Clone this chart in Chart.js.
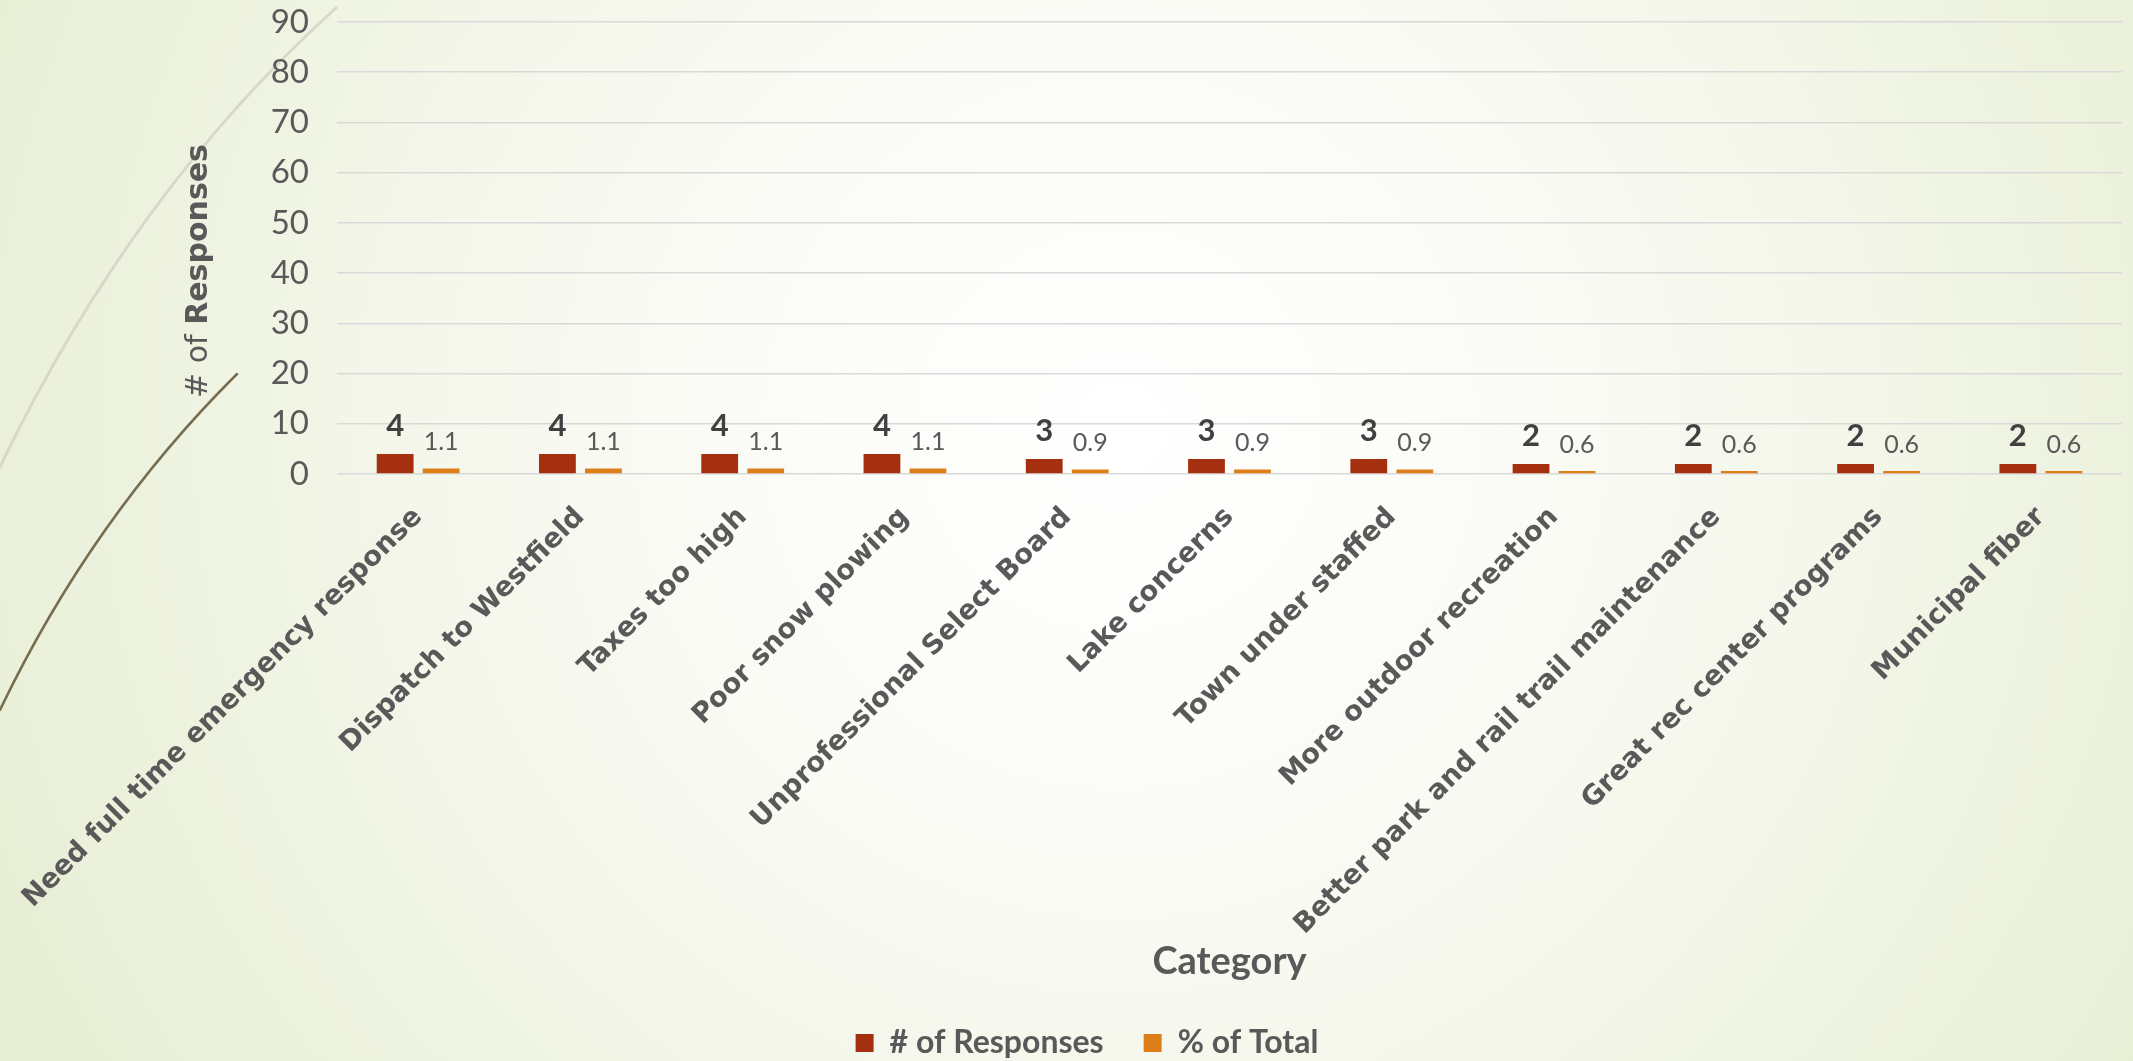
<!DOCTYPE html>
<html>
<head>
<meta charset="utf-8">
<script src="https://cdn.jsdelivr.net/npm/chart.js@4"></script>
<style>
  html, body { margin: 0; padding: 0; overflow: hidden; background: #f3f6ea; }
  canvas { display: block; }
</style>
</head>
<body>
<canvas id="grafico" width="2133" height="1061"></canvas>
<script>
// dados do gráfico
const categorias = [
  "Need full time emergency response",
  "Dispatch to Westfield",
  "Taxes too high",
  "Poor snow plowing",
  "Unprofessional Select Board",
  "Lake concerns",
  "Town under staffed",
  "More outdoor recreation",
  "Better park and rail trail maintenance",
  "Great rec center programs",
  "Municipal fiber"
];
const respostas = [4, 4, 4, 4, 3, 3, 3, 2, 2, 2, 2];
const percentual = [1.1, 1.1, 1.1, 1.1, 0.9, 0.9, 0.9, 0.6, 0.6, 0.6, 0.6];
const nomesSeries = ["# of Responses", "% of Total"];
const coresSeries = ["#a53010", "#de7e18"];

const corTexto = "#595959";

// fundo com degradê e arcos decorativos
const fundo = {
  id: "fundo",
  beforeDraw(chart) {
    const ctx = chart.ctx;
    const w = chart.width, h = chart.height;
    ctx.save();
    const g = ctx.createRadialGradient(1120, 430, 0, 1120, 430, 1250);
    g.addColorStop(0, "#ffffff");
    g.addColorStop(0.35, "#fafbf5");
    g.addColorStop(1, "#e7eed4");
    ctx.fillStyle = g;
    ctx.fillRect(0, 0, w, h);

    ctx.lineCap = "round";
    ctx.strokeStyle = "#d6d9c7";
    ctx.lineWidth = 3;
    ctx.beginPath();
    ctx.moveTo(336, 8);
    ctx.quadraticCurveTo(132, 192, 0, 467);
    ctx.stroke();

    ctx.strokeStyle = "#776c4f";
    ctx.lineWidth = 2.5;
    ctx.beginPath();
    ctx.moveTo(237, 374);
    ctx.quadraticCurveTo(92, 518, 0, 710);
    ctx.stroke();
    ctx.restore();
  }
};

// título do eixo Y com partes normal e negrito
const tituloY = {
  id: "tituloY",
  afterDraw(chart) {
    const ctx = chart.ctx;
    const parte1 = "# of ";
    const parte2 = "Responses";
    ctx.save();
    ctx.translate(199, 271);
    ctx.rotate(-Math.PI / 2);
    ctx.textBaseline = "middle";
    ctx.fillStyle = corTexto;
    ctx.font = "30px 'DejaVu Sans'";
    const w1 = ctx.measureText(parte1).width;
    ctx.font = "bold 30px 'DejaVu Sans'";
    const w2 = ctx.measureText(parte2).width;
    let x = -(w1 + w2) / 2;
    ctx.font = "30px 'DejaVu Sans'";
    ctx.textAlign = "left";
    ctx.fillText(parte1, x, 0);
    ctx.font = "bold 30px 'DejaVu Sans'";
    ctx.fillText(parte2, x + w1, 0);
    ctx.restore();
  }
};

// rótulos de valor acima das barras
const rotulos = {
  id: "rotulos",
  afterDatasetsDraw(chart) {
    const ctx = chart.ctx;
    ctx.save();
    ctx.textAlign = "center";
    ctx.textBaseline = "alphabetic";
    chart.data.datasets.forEach((ds, i) => {
      const meta = chart.getDatasetMeta(i);
      meta.data.forEach((bar, j) => {
        if (i === 0) {
          ctx.font = "bold 31px Lato";
          ctx.fillStyle = "#404040";
        } else {
          ctx.font = "25px Lato";
          ctx.fillStyle = corTexto;
        }
        ctx.fillText(String(ds.data[j]), bar.x, bar.y - 18);
      });
    });
    ctx.restore();
  }
};

const ctx = document.getElementById("grafico").getContext("2d");
new Chart(ctx, {
  type: "bar",
  data: {
    labels: categorias,
    datasets: [
      { label: nomesSeries[0], data: respostas, backgroundColor: coresSeries[0], borderWidth: 0 },
      { label: nomesSeries[1], data: percentual, backgroundColor: coresSeries[1], borderWidth: 0 }
    ]
  },
  options: {
    responsive: false,
    animation: false,
    categoryPercentage: 0.567,
    barPercentage: 0.8,
    layout: { padding: { top: 22, right: 11, bottom: -8, left: 52 } },
    plugins: {
      legend: {
        position: "bottom",
        labels: {
          boxWidth: 18,
          boxHeight: 18,
          padding: 40,
          color: corTexto,
          font: { family: "Lato", size: 32, weight: "bold" }
        }
      },
      tooltip: { enabled: false }
    },
    scales: {
      x: {
        grid: { display: false, drawTicks: false },
        border: { display: false },
        ticks: {
          autoSkip: false,
          maxRotation: 45,
          minRotation: 45,
          padding: 27,
          color: corTexto,
          font: { family: "'DejaVu Sans'", size: 27.5, weight: "bold" }
        },
        title: {
          display: true,
          text: "Category",
          color: corTexto,
          padding: { top: 0, bottom: 6 },
          font: { family: "Lato", size: 38, weight: "bold", lineHeight: 1 }
        },
        afterFit(scale) {
          scale.height = 513;
          scale.paddingLeft = 0;
          scale.paddingRight = 0;
        }
      },
      y: {
        min: 0,
        max: 90,
        grid: { color: "#d9d9d9", lineWidth: 1.5, drawTicks: false },
        border: { display: false },
        ticks: {
          stepSize: 10,
          padding: 28,
          color: corTexto,
          font: { family: "Lato", size: 33 }
        },
        afterFit(scale) {
          scale.width = 285;
          scale.paddingTop = 0;
          scale.paddingBottom = 0;
        }
      }
    }
  },
  plugins: [fundo, tituloY, rotulos]
});
</script>
</body>
</html>
